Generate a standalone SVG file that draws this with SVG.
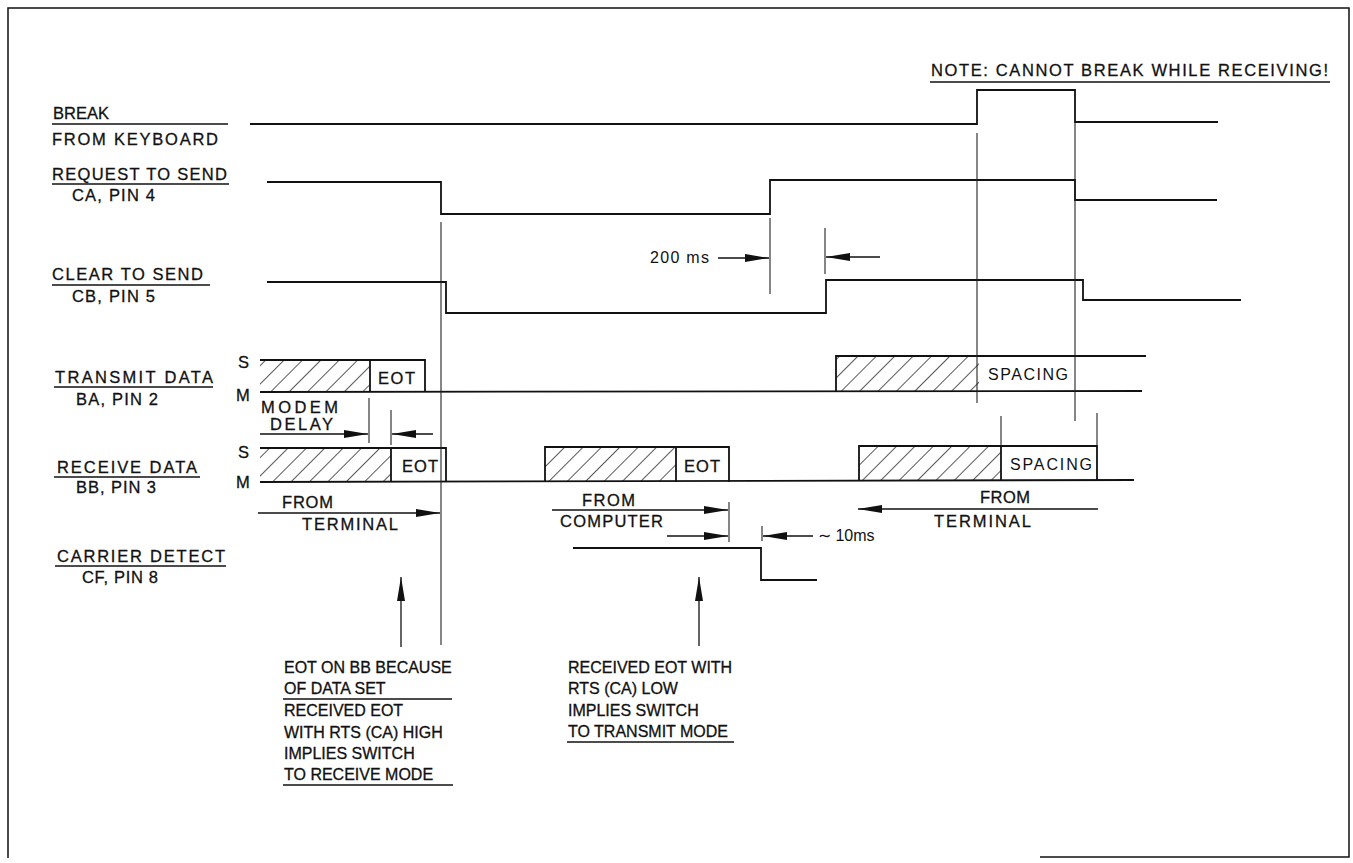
<svg xmlns="http://www.w3.org/2000/svg" width="1353" height="863" viewBox="0 0 1353 863">
<defs>
<style>
.t{font-family:"Liberation Sans",Arial,Helvetica,sans-serif;font-size:16.5px;fill:#111;stroke:#111;stroke-width:0.3}
.b{font-family:"Liberation Sans",Arial,Helvetica,sans-serif;font-size:16px;fill:#111;stroke:#111;stroke-width:0.3}
.n{font-family:"Liberation Sans",Arial,Helvetica,sans-serif;font-size:16px;fill:#111}
.s{fill:none;stroke:#111;stroke-width:1.8}
.v{fill:none;stroke:#222;stroke-width:1.1}
.u{fill:none;stroke:#111;stroke-width:1.5}
.a{fill:none;stroke:#111;stroke-width:1.3;marker-end:url(#ah)}
.h{fill:url(#hatch);stroke:none}
</style>
<marker id="ah" markerUnits="userSpaceOnUse" markerWidth="26" markerHeight="10" refX="24" refY="5" orient="auto"><path d="M0,1 L24,5 L0,9 Z" fill="#111"/></marker>
<pattern id="hatch" width="13" height="13" patternUnits="userSpaceOnUse" patternTransform="rotate(45)"><line x1="0" y1="0" x2="0" y2="13" stroke="#111" stroke-width="1.4"/></pattern>
</defs>
<rect width="1353" height="863" fill="#fff"/>
<path class="u" d="M1040,857 L1349,857 L1349,8 L8,8 L8,858"/>

<g id="break">
<text class="t" x="53" y="119">BREAK</text>
<line class="u" x1="52" y1="124" x2="228" y2="124"/>
<text class="t" x="52" y="145" textLength="166">FROM KEYBOARD</text>
<path class="s" d="M250,124 L977,124 L977,90 L1075,90 L1075,122 L1218,122"/>
</g>

<g id="rts">
<text class="t" x="52" y="180" textLength="175">REQUEST TO SEND</text>
<line class="u" x1="52" y1="184" x2="229" y2="184"/>
<text class="t" x="72" y="201" textLength="83">CA, PIN 4</text>
<path class="s" d="M267,182 L441,182 L441,214 L770,214 L770,180 L1075,180 L1075,200 L1217,200"/>
</g>

<g id="cts">
<text class="t" x="52" y="280" textLength="151">CLEAR TO SEND</text>
<line class="u" x1="52" y1="285" x2="210" y2="285"/>
<text class="t" x="72" y="302" textLength="83">CB, PIN 5</text>
<path class="s" d="M267,282 L446,282 L446,313 L826,313 L826,280 L1083,280 L1083,300 L1241,300"/>
</g>

<g id="txd">
<text class="t" x="55" y="383" textLength="158">TRANSMIT DATA</text>
<line class="u" x1="54" y1="387" x2="213" y2="387"/>
<text class="t" x="76" y="405" textLength="82">BA, PIN 2</text>
<text class="t" x="238" y="368">S</text>
<text class="t" x="236" y="401">M</text>
<rect class="h" x="260" y="360" width="110" height="32"/>
<path class="s" d="M260,360 L425,360 L425,392"/>
<line class="s" x1="370" y1="360" x2="370" y2="392"/>
<text class="t" x="378" y="384" textLength="37">EOT</text>
<line class="s" x1="260" y1="392" x2="1142" y2="391"/>
<rect class="h" x="836" y="356" width="143" height="35"/>
<path class="s" d="M836,391 L836,356 L1146,356"/>
<text class="n" x="988" y="380" textLength="80">SPACING</text>
</g>

<g id="rxd">
<text class="t" x="57" y="473" textLength="140">RECEIVE DATA</text>
<line class="u" x1="54" y1="477" x2="200" y2="477"/>
<text class="t" x="76" y="493" textLength="80">BB, PIN 3</text>
<text class="t" x="238" y="458">S</text>
<text class="t" x="236" y="488">M</text>
<rect class="h" x="260" y="448" width="131" height="34"/>
<path class="s" d="M260,448 L446,448 L446,482"/>
<line class="s" x1="391" y1="448" x2="391" y2="482"/>
<text class="t" x="402" y="472" textLength="36">EOT</text>
<line class="s" x1="260" y1="482" x2="1134" y2="480"/>
<rect class="h" x="545" y="447" width="131" height="35"/>
<path class="s" d="M545,482 L545,447 L729,447 L729,482"/>
<line class="s" x1="676" y1="447" x2="676" y2="482"/>
<text class="t" x="684" y="472" textLength="36">EOT</text>
<rect class="h" x="859" y="446" width="142" height="34"/>
<path class="s" d="M859,480 L859,446 L1097,446 L1097,480"/>
<line class="s" x1="1001" y1="446" x2="1001" y2="480"/>
<text class="n" x="1010" y="470" textLength="82">SPACING</text>
</g>

<g id="cd">
<text class="t" x="57" y="562" textLength="168">CARRIER DETECT</text>
<line class="u" x1="55" y1="566" x2="226" y2="566"/>
<text class="t" x="82" y="583" textLength="76">CF, PIN 8</text>
<path class="s" d="M573,548 L761,548 L761,580 L817,580"/>
</g>

<g id="note">
<text class="t" x="931" y="76" textLength="397">NOTE: CANNOT BREAK WHILE RECEIVING!</text>
<line class="u" x1="930" y1="82" x2="1330" y2="82"/>
</g>

<g id="connectors">
<line class="v" x1="441" y1="222" x2="441" y2="645"/>
<line class="v" x1="977" y1="133" x2="977" y2="403"/>
<line class="v" x1="1075" y1="122" x2="1075" y2="421"/>
<line class="v" x1="1001" y1="416" x2="1001" y2="446"/>
<line class="v" x1="1097" y1="413" x2="1097" y2="446"/>
<line class="v" x1="770" y1="218" x2="770" y2="294"/>
<line class="v" x1="825" y1="228" x2="825" y2="274"/>
<line class="v" x1="369" y1="398" x2="369" y2="443"/>
<line class="v" x1="391" y1="410" x2="391" y2="445"/>
<line class="v" x1="729" y1="502" x2="729" y2="542"/>
<line class="v" x1="762" y1="526" x2="762" y2="541"/>
<line class="a" x1="718" y1="258" x2="769" y2="258"/>
<line class="a" x1="880" y1="257" x2="826" y2="257"/>
<line class="a" x1="260" y1="434" x2="368" y2="434"/>
<line class="a" x1="433" y1="434" x2="392" y2="434"/>
<line class="a" x1="258" y1="513" x2="440" y2="513"/>
<line class="a" x1="552" y1="510" x2="728" y2="510"/>
<line class="a" x1="667" y1="536" x2="728" y2="536"/>
<line class="a" x1="813" y1="536" x2="763" y2="536"/>
<line class="a" x1="1098" y1="509" x2="858" y2="509"/>
<line class="a" x1="401" y1="647" x2="401" y2="577"/>
<line class="a" x1="699" y1="646" x2="699" y2="577"/>
</g>

<g id="labels">
<text class="n" x="650" y="263" textLength="59">200 ms</text>
<text class="t" x="261" y="413" textLength="77">MODEM</text>
<text class="t" x="270" y="430" textLength="63">DELAY</text>
<text class="t" x="282" y="508" textLength="51">FROM</text>
<text class="t" x="302" y="530" textLength="96">TERMINAL</text>
<text class="t" x="582" y="506" textLength="53">FROM</text>
<text class="t" x="560" y="527" textLength="103">COMPUTER</text>
<text class="n" x="818" y="541">∼ 10ms</text>
<text class="t" x="980" y="503" textLength="50">FROM</text>
<text class="t" x="934" y="527" textLength="97">TERMINAL</text>
</g>

<g id="note-left">
<text class="b" x="284" y="673">EOT ON BB BECAUSE</text>
<text class="b" x="284" y="694">OF DATA SET</text>
<line class="u" x1="283" y1="699" x2="452" y2="699"/>
<text class="b" x="284" y="716">RECEIVED EOT</text>
<text class="b" x="284" y="738">WITH RTS (CA) HIGH</text>
<text class="b" x="284" y="759">IMPLIES SWITCH</text>
<text class="b" x="284" y="780">TO RECEIVE MODE</text>
<line class="u" x1="283" y1="785" x2="453" y2="785"/>
</g>

<g id="note-right">
<text class="b" x="568" y="673">RECEIVED EOT WITH</text>
<text class="b" x="568" y="694">RTS (CA) LOW</text>
<text class="b" x="568" y="716">IMPLIES SWITCH</text>
<text class="b" x="568" y="737">TO TRANSMIT MODE</text>
<line class="u" x1="567" y1="742" x2="734" y2="742"/>
</g>
</svg>
